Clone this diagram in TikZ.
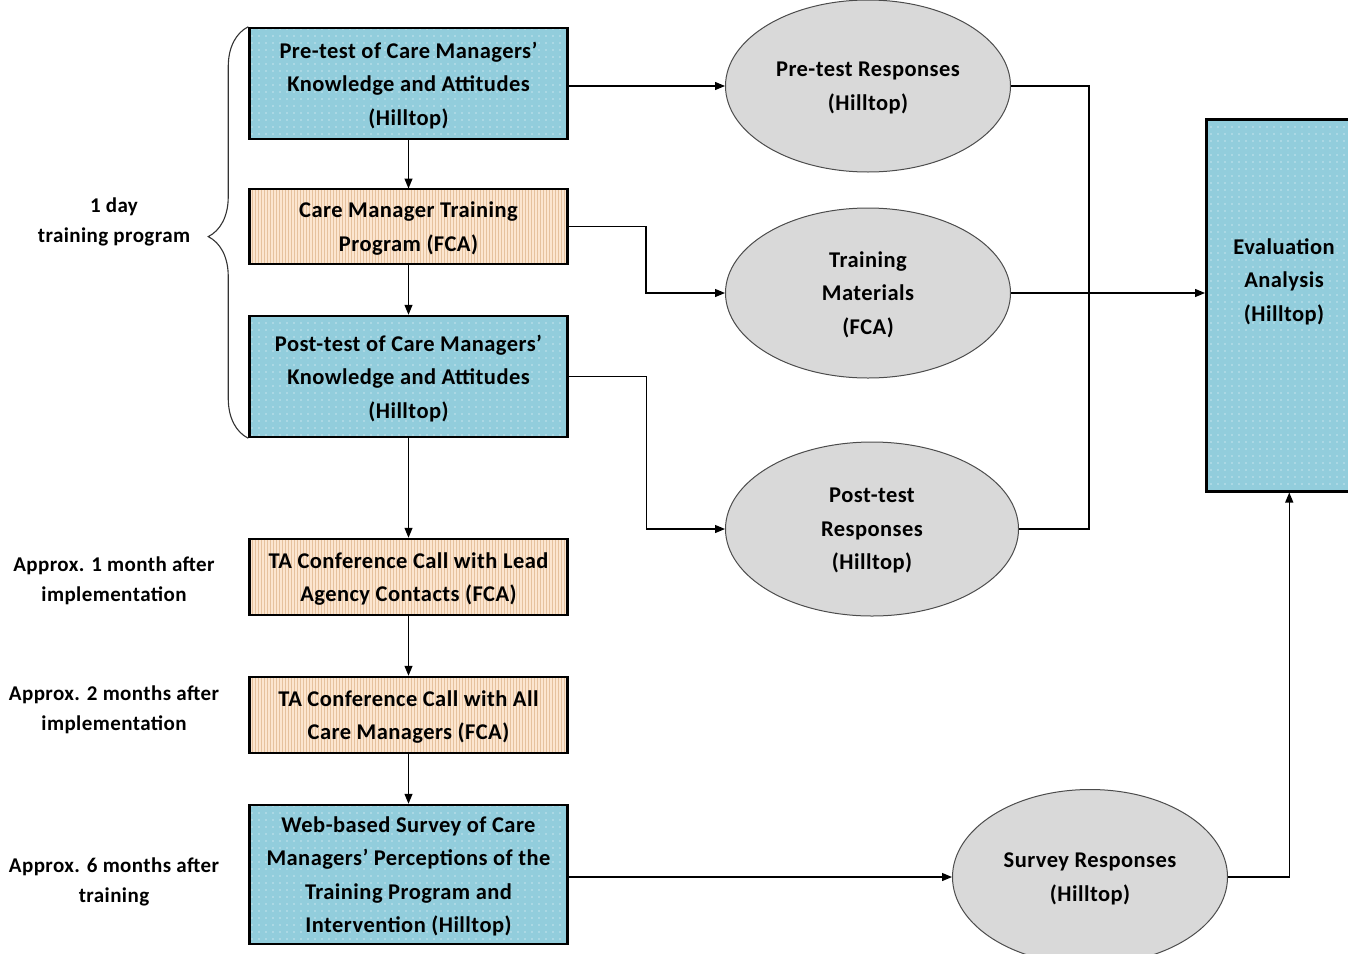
\documentclass[tikz,border=0pt]{standalone}
\usepackage{fontspec}
\setmainfont{Carlito}[LetterSpace=2]
\usepackage{tikz}
\usetikzlibrary{arrows.meta,patterns.meta,shapes.geometric,decorations.pathreplacing}
\usetikzlibrary{positioning}

\definecolor{aqua}{HTML}{92CDDC}
\definecolor{peach}{HTML}{FCE6D0}
\definecolor{peachline}{HTML}{E6C29E}
\definecolor{ovalgray}{HTML}{D9D9D9}

\tikzset{
  boxtext/.style={font=\fontsize{22.5}{33.5}\selectfont\bfseries, align=center, inner sep=0pt, text depth=-4pt},
  bluebox/.style={boxtext, draw=black, line width=2.5pt, preaction={fill=aqua},
    pattern={Dots[distance=7pt,radius=0.7pt]}, pattern color=white, minimum width=318pt},
  tanbox/.style={boxtext, draw=black, line width=2.5pt, preaction={fill=peach},
    pattern={Lines[angle=90,distance=3pt,line width=1pt]}, pattern color=peachline, minimum width=318pt},
  oval/.style={boxtext, ellipse, draw=black!70, line width=1pt, fill=ovalgray},
  note/.style={font=\fontsize{21}{30}\selectfont\bfseries, align=center},
  flow/.style={-{Triangle[length=10pt,width=8pt]}, line width=1.2pt},
  link/.style={line width=1.2pt}
}

\begin{document}
\begin{tikzpicture}[x=1pt,y=-1pt]
  \useasboundingbox (0,0) rectangle (1348,953);
  \node[bluebox, minimum height=111pt] (pre) at (408.5,83.5) {Pre-test of Care Managers’\\Knowledge and Attitudes\\(Hilltop)};
  \node[tanbox, minimum height=75pt] (train) at (408.5,226.5) {Care Manager Training\\Program (FCA)};
  \node[bluebox, minimum height=121pt] (post) at (408.5,376.5) {Post-test of Care Managers’\\Knowledge and Attitudes\\(Hilltop)};
  \node[tanbox, minimum height=76pt] (call1) at (408.5,577) {TA Conference Call with Lead\\Agency Contacts (FCA)};
  \node[tanbox, minimum height=76pt] (call2) at (408.5,715) {TA Conference Call with All\\Care Managers (FCA)};
  \node[bluebox, minimum height=139pt] (web) at (408.5,874.5) {Web-based Survey of Care\\Managers’ Perceptions of the\\Training Program and\\Intervention (Hilltop)};

  \node[oval, minimum width=285pt, minimum height=172pt] (preresp) at (868,86) {Pre-test Responses\\(Hilltop)};
  \node[oval, minimum width=285pt, minimum height=170pt] (material) at (868,293) {Training\\Materials\\(FCA)};
  \node[oval, minimum width=293pt, minimum height=174pt] (postresp) at (872,529) {Post-test\\Responses\\(Hilltop)};
  \node[oval, minimum width=275pt, minimum height=175pt] (surveyresp) at (1090,877) {Survey Responses\\(Hilltop)};

  \node[bluebox, minimum width=166pt, minimum height=372pt, anchor=north west] (eval) at (1205,118) {};
  \node[boxtext] (evaltext) at (1284,280) {Evaluation\\Analysis\\(Hilltop)};

  \node[note] (oneday) at (114,222) {1 day\\training program};
  \node[note] (month1) at (114,581) {Approx. 1 month after\\implementation};
  \node[note] (month2) at (114,710) {Approx. 2 months after\\implementation};
  \node[note] (month6) at (114,882) {Approx. 6 months after\\training};

  \draw[decorate, decoration={brace, amplitude=40pt, aspect=0.49}, line width=1.1pt, draw=black!80]
    (post.south west) -- (pre.north west);

  \draw[flow] (preresp.west -| pre.east) -- (preresp.west);
  \draw[flow] (pre) -- (train);
  \draw[flow] (train.east) -- ++(78,0) |- (material.west);
  \draw[flow] (train) -- (post);
  \draw[flow] (post.east) -- ++(78,0) |- (postresp.west);
  \draw[flow] (post) -- (call1);
  \draw[flow] (call1) -- (call2);
  \draw[flow] (call2) -- (web);
  \draw[flow] (surveyresp.west -| web.east) -- (surveyresp.west);
  \draw[link] (preresp.east) -- ++(78,0) |- (postresp.east);
  \draw[flow] (material.east) -- (material.east -| eval.west);
  \draw[flow] (surveyresp.east) -| (eval.south);
\end{tikzpicture}
\end{document}
